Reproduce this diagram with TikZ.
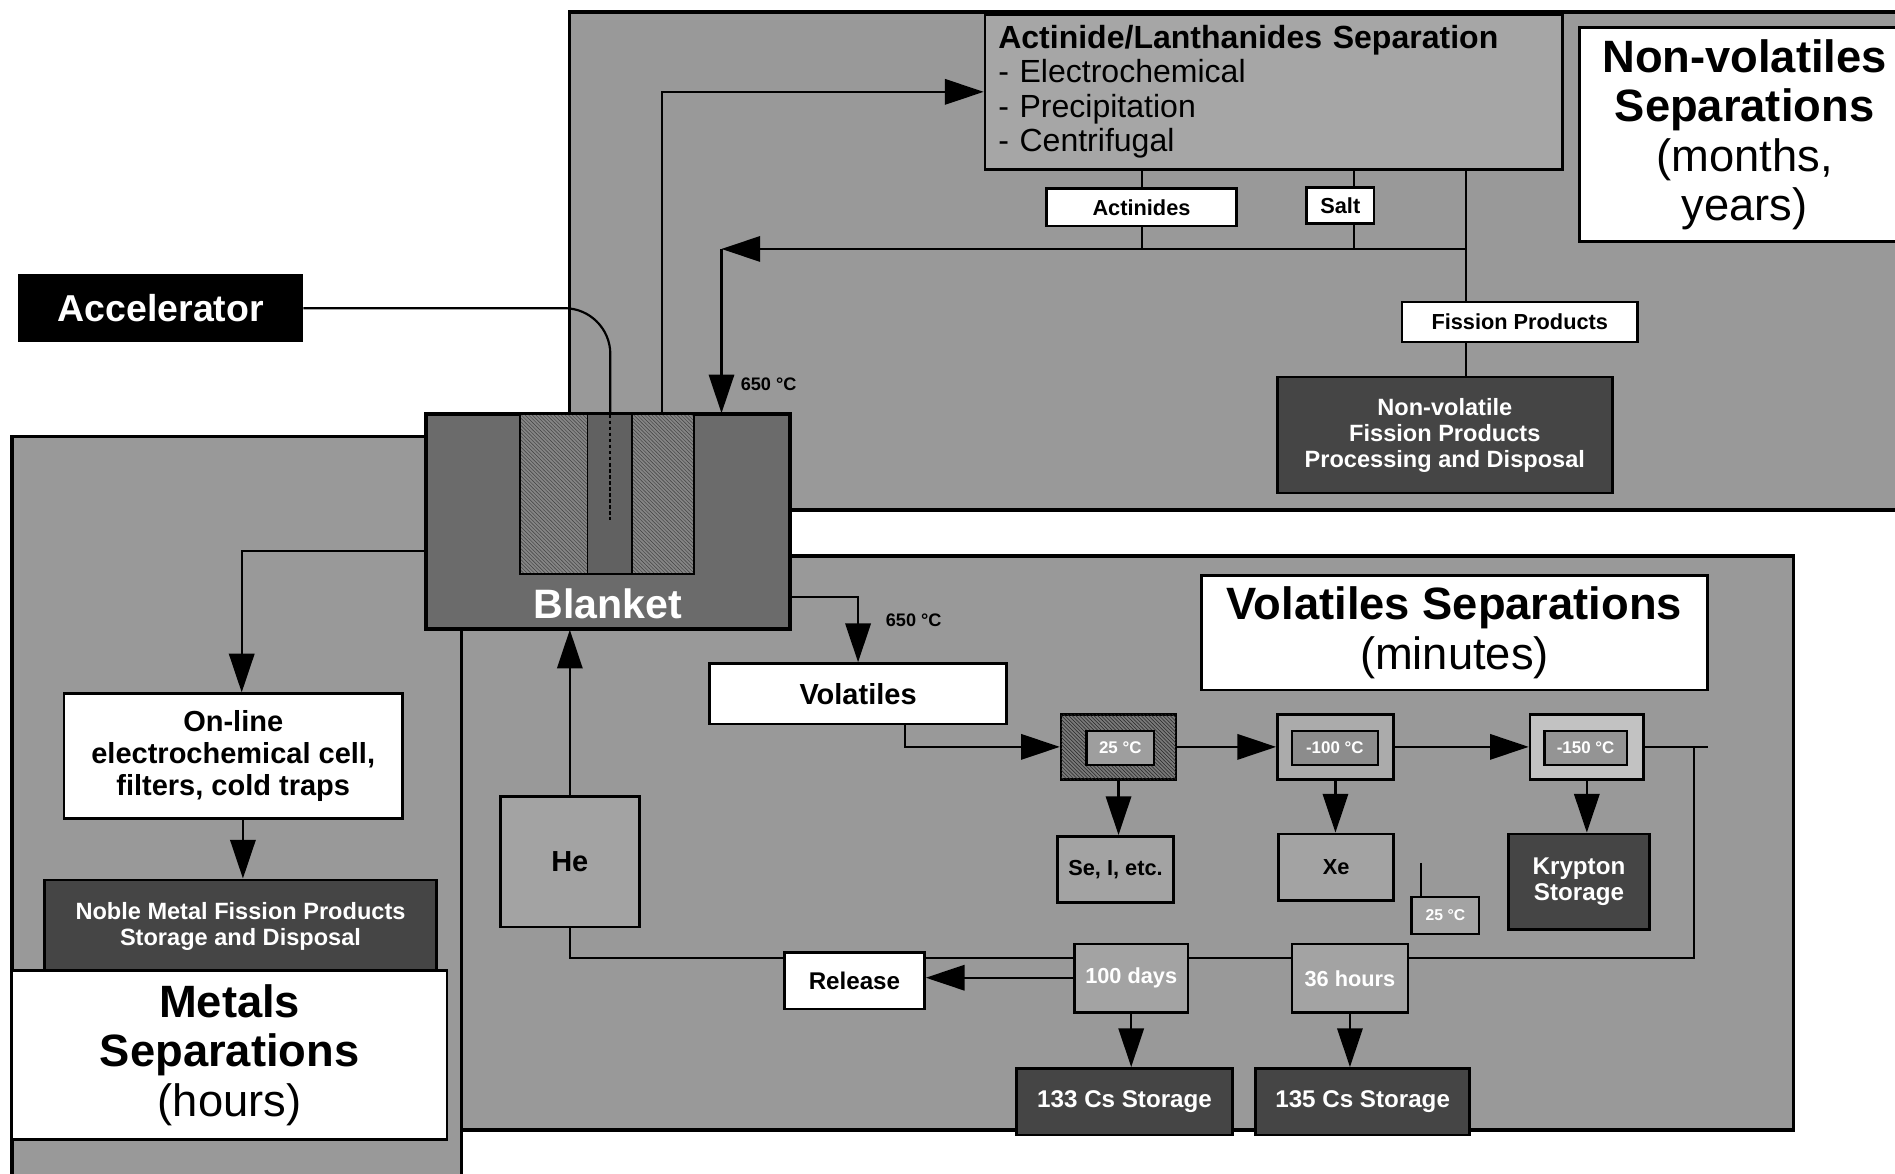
\documentclass[tikz,border=0pt]{standalone}
\usepackage{fontspec}
\setmainfont{Liberation Sans}
\usetikzlibrary{arrows.meta,patterns}
\pgfdeclarelayer{panels}
\pgfdeclarelayer{lines}
\pgfsetlayers{panels,lines,main}
\newcommand\tsz[2]{\fontsize{#1pt}{#2pt}\selectfont}
\definecolor{panelg}{gray}{0.6}
\definecolor{actg}{gray}{0.65}
\definecolor{boxg}{gray}{0.64}
\definecolor{darkg}{gray}{0.27}
\definecolor{blankg}{gray}{0.42}
\definecolor{hatchg}{gray}{0.52}
\begin{document}
\begin{tikzpicture}[x=1pt,y=-1pt,
  box/.style={draw=black,line width=2.2pt,inner sep=0pt,align=center},
  wbox/.style={box,fill=white},
  gbox/.style={box,fill=boxg},
  dbox/.style={box,fill=darkg,text=white},
  panelsty/.style={fill=panelg,draw=black,line width=2.8pt},
  conn/.style={draw=black,line width=1.8pt},
  arr/.style={conn,-{Triangle[length=32pt,width=21pt]}},
  small/.style={font=\tsz{18}{20}\bfseries},
  title/.style={font=\tsz{37.5}{41}},
  temp/.style={box,line width=2pt,text=white,font=\tsz{14}{16}\bfseries},
]
\useasboundingbox (0,0) rectangle (1568,971);

% ---------- panels ----------
\begin{pgfonlayer}{panels}
\fill[white] (0,0) rectangle (1568,971);
\begin{scope}
\clip (0,0) rectangle (1568,971);
\filldraw[panelsty] (471,10) rectangle (1600,422);
\filldraw[panelsty] (10,361) rectangle (382,1000);
\filldraw[panelsty] (382,460) rectangle (1484,935);
\end{scope}
\end{pgfonlayer}

% ---------- accelerator and blanket ----------
\node[dbox,fill=black,minimum width=234pt,minimum height=54pt,font=\tsz{31}{34}\bfseries] (acc) at (133,255) {Accelerator};

\node[box,fill=blankg,minimum width=300pt,minimum height=177pt] (blanket) at (503,431.5) {};
\fill[hatchg] (430,343) rectangle (574,475);
\fill[pattern=north west lines,pattern color=black!75] (430,343) rectangle (486,475);
\fill[pattern=north west lines,pattern color=black!75] (523,343) rectangle (574,475);
\fill[black!62] (486,343) rectangle (523,475);
\draw[line width=1.6pt] (430,343) -- (430,475) -- (574,475) -- (574,343);
\draw[line width=1.4pt] (486,343) -- (486,475) (523,343) -- (523,475);
\draw[line width=2.2pt] (blanket.north west) rectangle (blanket.south east);
\node[text=white,font=\tsz{34}{36}\bfseries] (blanketlbl) at (503,500) {Blanket};
\coordinate (beamin) at (505,343);
\coordinate (beamend) at (505,430);
\draw[line width=1.6pt,dash pattern=on 3pt off 2pt] (beamin) -- (beamend);

% ---------- non-volatiles ----------
\node[box,fill=actg,minimum width=478pt,minimum height=128pt,text width=456pt,align=left,font=\tsz{26.5}{28.5}] (act) at (1054,76)
  {\textbf{Actinide/Lanthanides Separation}\\- Electrochemical\\- Precipitation\\- Centrifugal};
\node[wbox,minimum width=273pt,minimum height=177pt,title] (nvtitle) at (1443.5,111.5)
  {\textbf{Non-volatiles}\\\textbf{Separations}\\(months,\\years)};
\node[wbox,small,minimum width=157pt,minimum height=31pt] (actd) at (944.5,171.5) {Actinides};
\node[wbox,small,minimum width=56pt,minimum height=30pt] (salt) at (1109,170) {Salt};
\node[wbox,small,minimum width=195pt,minimum height=33pt] (fp) at (1257.5,266.5) {Fission Products};
\node[dbox,minimum width=277pt,minimum height=96pt,font=\tsz{19.5}{21.5}\bfseries] (nvfp) at (1195.5,360)
  {Non-volatile\\Fission Products\\Processing and Disposal};
\node[font=\tsz{15}{17}\bfseries] (t650a) at (636,318) {650 °C};

% ---------- volatiles ----------
\node[wbox,minimum width=246pt,minimum height=50pt,font=\tsz{24}{26}\bfseries] (vol) at (710,574) {Volatiles};
\node[font=\tsz{15}{17}\bfseries] (t650b) at (756,513) {650 °C};
\node[wbox,minimum width=419pt,minimum height=95pt,title] (voltitle) at (1203.5,523.5)
  {\textbf{Volatiles Separations}\\(minutes)};

\node[box,fill=black!52,postaction={pattern=north west lines,pattern color=black!85},minimum width=95pt,minimum height=54pt] (trap25) at (925.5,618) {};
\node[temp,fill=black!38,minimum width=56pt,minimum height=28pt] (in25) at (927,619) {25 °C};
\node[box,fill=black!33,minimum width=96pt,minimum height=54pt] (trap100) at (1105,618) {};
\node[temp,fill=black!45,minimum width=71pt,minimum height=28pt] (in100) at (1104.5,619) {-100 °C};
\node[box,fill=black!24,minimum width=94pt,minimum height=54pt] (trap150) at (1313,618) {};
\node[temp,fill=black!42,minimum width=68pt,minimum height=28pt] (in150) at (1312,619) {-150 °C};

\node[gbox,small,minimum width=96pt,minimum height=55pt] (se) at (923,719.5) {Se, I, etc.};
\node[gbox,small,minimum width=95pt,minimum height=55pt] (xe) at (1105.5,717.5) {Xe};
\node[dbox,minimum width=117pt,minimum height=79pt,font=\tsz{20}{22}\bfseries] (kr) at (1306.5,729.5) {Krypton\\Storage};
\node[temp,fill=boxg,minimum width=56pt,minimum height=31pt,font=\tsz{13}{15}\bfseries] (t25s) at (1196,757.5) {25 °C};

\node[wbox,minimum width=116pt,minimum height=47pt,font=\tsz{20}{22}\bfseries] (rel) at (707,811.5) {Release};
\node[gbox,small,text=white,minimum width=94pt,minimum height=57pt] (d100) at (936,809.5) {100 days};
\node[gbox,small,text=white,minimum width=96pt,minimum height=57pt] (h36) at (1117,809.5) {36 hours};
\node[dbox,minimum width=179pt,minimum height=55pt,font=\tsz{20}{22}\bfseries] (cs133) at (930.5,911.5) {133 Cs Storage};
\node[dbox,minimum width=177pt,minimum height=55pt,font=\tsz{20}{22}\bfseries] (cs135) at (1127.5,911.5) {135 Cs Storage};
\node[gbox,minimum width=115pt,minimum height=108pt,font=\tsz{24}{26}\bfseries] (he) at (471.5,713) {He};

% ---------- metals ----------
\node[wbox,minimum width=280pt,minimum height=103pt,font=\tsz{24}{26.5}\bfseries] (online) at (193,625.5)
  {On-line\\electrochemical cell,\\filters, cold traps};
\node[dbox,minimum width=324pt,minimum height=77pt,font=\tsz{19.5}{21.5}\bfseries] (noble) at (199,766.5)
  {Noble Metal Fission Products\\Storage and Disposal};
\node[wbox,minimum width=360pt,minimum height=140pt,title] (metals) at (190,873)
  {\textbf{Metals}\\\textbf{Separations}\\(hours)};

% ---------- junction coordinates ----------
\coordinate (jfp) at (1213,206);
\coordinate (jret) at (597,206);
\coordinate (loopE) at (1413,618);
\coordinate (loopA) at (1402,618);
\coordinate (loopB) at (1402,793);
\coordinate (xlink) at (1176,714);

% ---------- connectors ----------
\begin{pgfonlayer}{lines}
\draw[conn,rounded corners=38pt] (acc.east) -| (beamin);
\draw[arr] (548,0 |- blanket.north) |- (act.west);
\draw[conn] (945,0 |- act.south) -- (945,0 |- jfp);
\draw[conn] (1120,0 |- act.south) -- (1120,0 |- jfp);
\draw[conn] (1213,0 |- act.south) -- (1213,0 |- nvfp.north);
\draw[arr] (jfp) -- (jret);
\draw[arr] (jret) -- (jret |- blanket.north);

\draw[arr] (blanket.east |- 0,494) -| (vol.north);
\draw[arr] (749,0 |- vol.south) |- (trap25.west);
\draw[arr] (trap25.east) -- (trap100.west);
\draw[arr] (trap100.east) -- (trap150.west);
\draw[conn] (trap150.east) -- (loopE);
\draw[conn] (loopA) -- (loopB) -| (he.south);
\draw[arr] (he.north) -- (he.north |- blanket.south);
\draw[arr] (trap25.south) -- (trap25.south |- se.north);
\draw[arr] (trap100.south) -- (trap100.south |- xe.north);
\draw[arr] (trap150.south) -- (trap150.south |- kr.north);
\draw[conn] (xlink) -- (xlink |- t25s.north);
\draw[arr] (d100.west |- 0,809) -- (rel.east |- 0,809);
\draw[arr] (d100.south) -- (d100.south |- cs133.north);
\draw[arr] (h36.south) -- (h36.south |- cs135.north);

\draw[arr] (blanket.west |- 0,456) -| ([xshift=7pt]online.north);
\draw[arr] ([xshift=8pt]online.south) -- ([xshift=8pt]online.south |- noble.north);
\end{pgfonlayer}
\end{tikzpicture}
\end{document}
